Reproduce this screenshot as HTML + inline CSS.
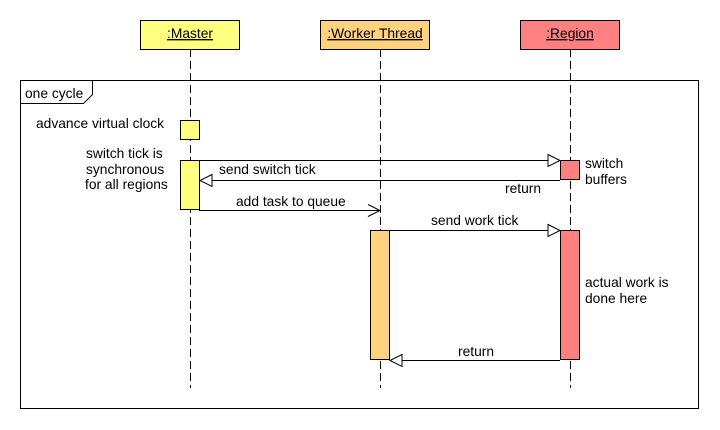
<!DOCTYPE html>
<html><head><meta charset="utf-8"><style>body{margin:0;background:#fff}svg{display:block}text{font-family:"Liberation Sans",sans-serif;font-size:13.8px;fill:#000}</style></head><body>
<svg width="720" height="430" xmlns="http://www.w3.org/2000/svg">
<g stroke="#000" stroke-dasharray="8,4" stroke-width="1">
<line x1="190.5" y1="49" x2="190.5" y2="388"/>
<line x1="380.5" y1="49" x2="380.5" y2="388"/>
<line x1="570.5" y1="49" x2="570.5" y2="388"/>
</g>
<rect x="140.5" y="20.5" width="99" height="29" fill="#ffff80" stroke="#000"/>
<rect x="320.5" y="20.5" width="109" height="29" fill="#ffd280" stroke="#000"/>
<rect x="520.5" y="20.5" width="99" height="29" fill="#ff8080" stroke="#000"/>
<text x="190" y="38" text-anchor="middle" text-decoration="underline">:Master</text>
<text x="375" y="38" text-anchor="middle" text-decoration="underline">:Worker Thread</text>
<text x="570" y="38" text-anchor="middle" text-decoration="underline">:Region</text>
<rect x="20.5" y="80.5" width="678" height="328" fill="none" stroke="#000"/>
<path d="M20.5 103.5H83.5L92.5 94.5V80.5" fill="none" stroke="#000"/>
<text x="25" y="98">one cycle</text>
<rect x="180.5" y="120.5" width="19" height="19" fill="#ffff80" stroke="#000"/>
<rect x="180.5" y="160.5" width="19" height="49" fill="#ffff80" stroke="#000"/>
<rect x="560.5" y="160.5" width="19" height="19" fill="#ff8080" stroke="#000"/>
<rect x="370.5" y="230.5" width="19" height="129" fill="#ffd280" stroke="#000"/>
<rect x="560.5" y="230.5" width="19" height="129" fill="#ff8080" stroke="#000"/>
<g stroke="#000" fill="#fff">
<line x1="199" y1="160.5" x2="548" y2="160.5"/><path d="M548 154.5L560 160.5L548 166.5Z"/>
<line x1="212" y1="180.5" x2="560" y2="180.5"/><path d="M212 174.5L200 180.5L212 186.5Z"/>
<line x1="199" y1="210.5" x2="380" y2="210.5"/><path d="M368 204.5L380 210.5L368 216.5" fill="none"/>
<line x1="389" y1="230.5" x2="548" y2="230.5"/><path d="M548 224.5L560 230.5L548 236.5Z"/>
<line x1="402" y1="360.5" x2="560" y2="360.5"/><path d="M402 354.5L390 360.5L402 366.5Z"/>
</g>
<text x="36" y="128">advance virtual clock</text>
<text x="86" y="158">switch tick is</text>
<text x="86" y="174">synchronous</text>
<text x="85" y="189">for all regions</text>
<text x="219" y="174">send switch tick</text>
<text x="505" y="193">return</text>
<text x="585" y="168">switch</text>
<text x="585" y="184">buffers</text>
<text x="236" y="206">add task to queue</text>
<text x="431" y="225">send work tick</text>
<text x="585" y="287">actual work is</text>
<text x="585" y="303">done here</text>
<text x="458" y="356">return</text>
</svg>
</body></html>
